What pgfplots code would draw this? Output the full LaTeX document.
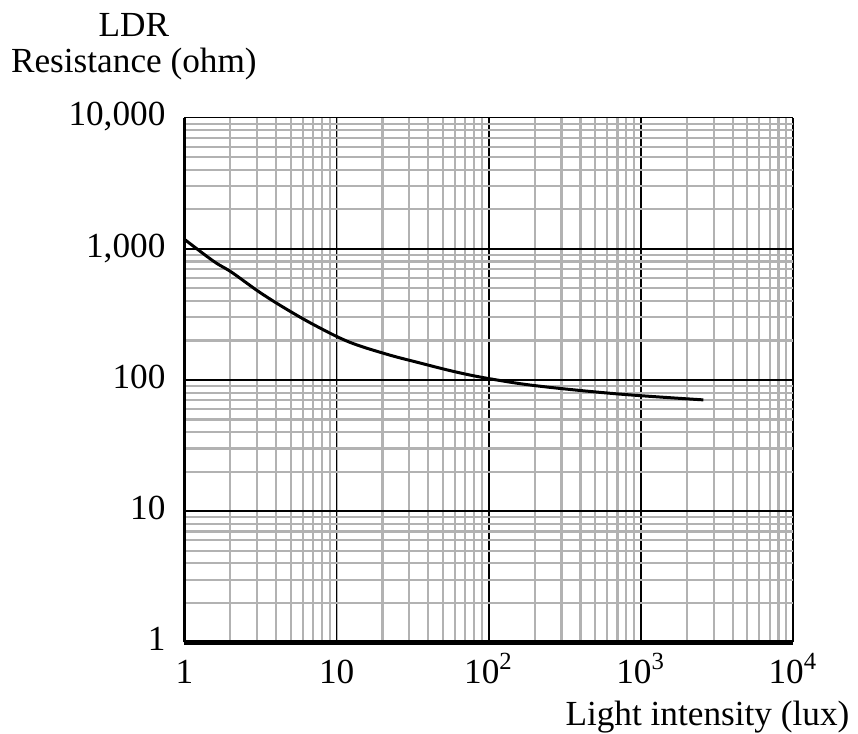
\documentclass[border=0pt]{standalone}
\usepackage{fontspec}
\setmainfont{Liberation Serif}
\usepackage{pgfplots}
\pgfplotsset{compat=1.18}

\begin{document}
\begin{tikzpicture}[font=\fontsize{10.6}{12.6}\selectfont]
    \begin{axis}[
        scale only axis,
        width=183.1pt, height=157.8pt,
        xmode=log, ymode=log,
        xmin=1, xmax=10000,
        ymin=1, ymax=10000,
        axis x line*=bottom,
        axis y line*=left,
        x axis line style={-, line width=1.5pt},
        y axis line style={-, line width=0.75pt},
        xtick={1,10,100,1000,10000},
        xticklabels={1,10,10\textsuperscript{2},10\textsuperscript{3},10\textsuperscript{4}},
        ytick={1,10,100,1000,10000},
        yticklabels={1,10,100,{1,000},{10,000}},
        xticklabel style={anchor=base, yshift=-12.3pt},
        yticklabel style={anchor=base east, xshift=-2.2pt, yshift=-2.5pt},
        tick style={draw=none},
        grid=both,
        major grid style={black, line width=0.45pt},
        minor grid style={gray!60, line width=0.65pt},
        clip=false
    ]

    % LDR curve
    \addplot[black, line width=0.9pt, smooth, tension=0.6] coordinates {
        (1,1181)
        (1.556,803)
        (2.04,663)
        (3.115,467)
        (4.68,346.7)
        (7.36,257.4)
        (12.11,194.5)
        (21.17,157.6)
        (33.3,137.1)
        (60.9,115.0)
        (103.2,101.8)
        (209.8,90.0)
        (701.5,78.3)
        (2568,70.5)
    };

    \node[anchor=base] at (rel axis cs:-0.0831,1.154) {LDR};
    \node[anchor=base] at (rel axis cs:-0.0831,1.0856) {Resistance (ohm)};
    \node[anchor=base east, inner sep=0pt] at (rel axis cs:1.0934,-0.1578) {Light intensity (lux)};

    % keep the page the size of the original
    \path (rel axis cs:-0.2994,-0.173) rectangle (rel axis cs:1.1065,1.2243);
    \end{axis}
\end{tikzpicture}
\end{document}
